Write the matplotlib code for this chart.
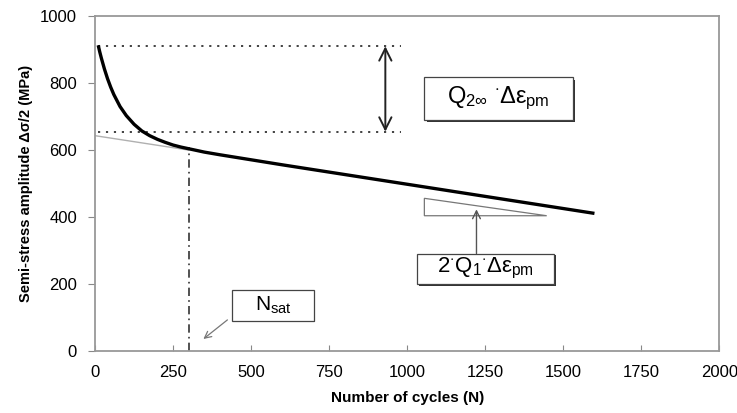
import matplotlib
matplotlib.use("Agg")
import matplotlib.pyplot as plt
from matplotlib.patches import Rectangle, Polygon

plt.rcParams['font.family'] = ['Liberation Sans', 'DejaVu Sans']
plt.rcParams['mathtext.fontset'] = 'custom'
plt.rcParams['mathtext.rm'] = 'Liberation Sans'
plt.rcParams['mathtext.it'] = 'Liberation Sans'
plt.rcParams['mathtext.bf'] = 'Liberation Sans:bold'

# cyclic softening curve
cycles = [10, 15, 20, 30, 40, 50, 60, 80, 100, 125, 150, 175, 200, 225, 250, 275,
          300, 350, 400, 500, 600, 800, 1000, 1200, 1400, 1600]
stress = [913, 893, 875, 842, 813, 788, 766, 730, 703, 677, 657, 643, 632, 623, 615, 609,
          604, 594, 586, 571, 556, 527, 498, 469, 440, 411]

# linear extrapolation of the stabilised part
lin_n = [0, 300]
lin_s = [643, 600]

n_sat = 300
sat_stress = 608
q_top = 910
q_bottom = 655
q_span = [10, 980]
arrow_n = 930

tri_n = [1055, 1055, 1447]
tri_s = [456, 404, 404]

xticks = [0, 250, 500, 750, 1000, 1250, 1500, 1750, 2000]
yticks = [0, 200, 400, 600, 800, 1000]

fig = plt.figure(figsize=(7.37, 4.13), dpi=100)
ax = fig.add_axes([0.129, 0.150, 0.847, 0.811])

ax.plot(lin_n, lin_s, color='#b0b0b0', lw=1.0, zorder=2)
ax.plot(cycles, stress, color='black', lw=2.4, solid_capstyle='butt', zorder=3)

ax.plot(q_span, [q_top, q_top], color='#333333', lw=1.3, ls=(0, (1.2, 3.2)))
ax.plot(q_span, [q_bottom, q_bottom], color='#333333', lw=1.3, ls=(0, (1.2, 3.2)))
ax.annotate('', xy=(arrow_n, q_top), xytext=(arrow_n, q_bottom),
            arrowprops=dict(arrowstyle='<->', color='#222222', lw=1.4,
                            mutation_scale=22, shrinkA=0, shrinkB=0))

ax.plot([n_sat, n_sat], [0, sat_stress], color='#333333', lw=1.2,
        ls=(0, (5, 2.5, 1, 2.5)))

ax.add_patch(Polygon(list(zip(tri_n, tri_s)), closed=True, fill=False,
                     edgecolor='#777777', lw=0.9))
ax.annotate('', xy=(1222, 423), xytext=(1222, 291),
            arrowprops=dict(arrowstyle='->', color='#555555', lw=1.0,
                            mutation_scale=14, shrinkA=0, shrinkB=0))
ax.annotate('', xy=(347, 36), xytext=(424, 93),
            arrowprops=dict(arrowstyle='->', color='#777777', lw=0.9,
                            mutation_scale=12, shrinkA=0, shrinkB=0))


def label_box(x0, x1, y0, y1, text, size):
    # white box with a dark drop shadow on its right and bottom side
    dx = (x1 - x0) * 0.015
    dy = (y1 - y0) * 0.05
    ax.add_patch(Rectangle((x0 + dx, y0 - dy), x1 - x0, y1 - y0,
                           facecolor='#333333', edgecolor='none', zorder=4))
    ax.add_patch(Rectangle((x0, y0), x1 - x0, y1 - y0, facecolor='white',
                           edgecolor='#444444', lw=0.9, zorder=5))
    ax.text((x0 + x1) / 2, (y0 + y1) / 2, text, ha='center', va='center',
            fontsize=size, zorder=6)


label_box(1055, 1530, 690, 817,
          r'Q$_{2\infty}$ $^{\cdot}$$\Delta\varepsilon_{\mathrm{pm}}$', 17)
label_box(1030, 1470, 200, 291,
          r'2$^{\cdot}$Q$_1$$^{\cdot}$$\Delta\varepsilon_{\mathrm{pm}}$', 16)
label_box(440, 700, 90, 183, r'N$_{\mathrm{sat}}$', 15)

ax.set_xlim(0, 2000)
ax.set_ylim(0, 1000)
ax.set_xticks(xticks)
ax.set_yticks(yticks)
ax.tick_params(axis='x', direction='in', length=4, color='#888888',
               labelsize=12, pad=10)
ax.tick_params(axis='y', direction='out', length=5, color='#888888',
               labelsize=12, pad=8)
for side in ['left', 'right', 'top', 'bottom']:
    ax.spines[side].set_color('#999999')
    ax.spines[side].set_linewidth(1.3)

ax.set_xlabel('Number of cycles (N)', fontsize=11, fontweight='bold', labelpad=8)
ax.set_ylabel('Semi-stress amplitude \u0394\u03c3/2 (MPa)', fontsize=10.5,
              fontweight='bold', labelpad=5)

fig.savefig('out.png', dpi=100)
